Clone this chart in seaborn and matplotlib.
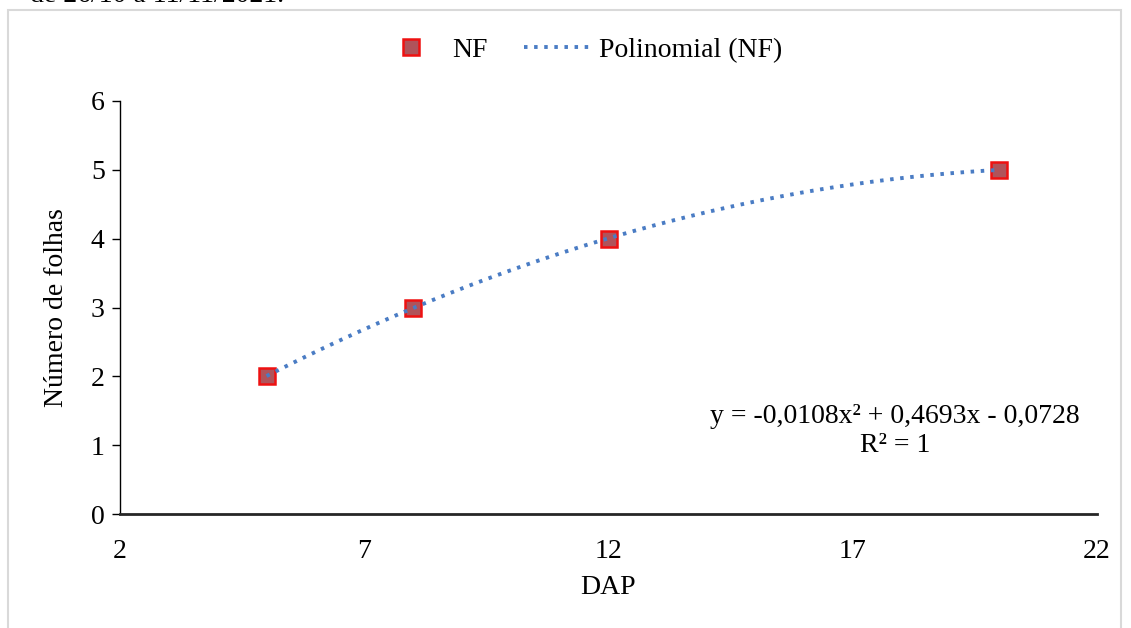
import numpy as np
import pandas as pd
import seaborn as sns
import matplotlib
matplotlib.use("Agg")
import matplotlib.pyplot as plt
from matplotlib.patches import Rectangle

# Data
dap = [5, 8, 12, 20]
nf = [2, 3, 4, 5]
x_ticks = [2, 7, 12, 17, 22]
y_ticks = [0, 1, 2, 3, 4, 5, 6]

sns.set_theme(style="white")
plt.rcParams['font.family'] = ['Liberation Serif', 'DejaVu Serif']
plt.rcParams['text.color'] = 'black'
plt.rcParams['axes.labelcolor'] = 'black'

FS = 20
FILL = '#B0535A'
EDGE = '#EE1111'

fig = plt.figure(figsize=(11.31, 6.28), dpi=100)
ax = fig.add_axes([120/1131, 1-514/628, (1097-120)/1131, (514-101)/628])

# outer frame
fig.patches.append(Rectangle((8/1131, -0.01), (1121-8)/1131, 1-10/628 + 0.01, transform=fig.transFigure,
                             fill=False, edgecolor='#D9D9D9', linewidth=1.5))
fig.text(30/1131, 1.0 + 4/628, "de 26/10 a 11/11/2021.", fontsize=FS, ha='left', va='center')

df = pd.DataFrame({"DAP": dap, "NF": nf})
coef = np.polyfit(dap, nf, 2)
xs = np.linspace(min(dap), max(dap), 200)
trend = pd.DataFrame({"DAP": xs, "NF": np.polyval(coef, xs)})

sns.lineplot(data=df, x="DAP", y="NF", marker='s', linestyle='none', markersize=12,
             color=EDGE, ax=ax, label='NF', zorder=3)
pts = ax.lines[-1]
pts.set_markerfacecolor(FILL)
pts.set_markeredgecolor(EDGE)
pts.set_markeredgewidth(1.8)
sns.lineplot(data=trend, x="DAP", y="NF", color='#4A7CC4', linewidth=2.8,
             linestyle=(0, (0.9, 1.7)), ax=ax, label='Polinomial (NF)', zorder=4)

ax.set_xlim(2, 22)
ax.set_ylim(0, 6)
ax.set_xticks(x_ticks)
ax.set_yticks(y_ticks)
ax.tick_params(axis='both', labelsize=FS, colors='black')
ax.tick_params(axis='y', left=True, length=6, width=1, direction='out', pad=5)
ax.tick_params(axis='x', bottom=False, pad=12)
for s in ['top', 'right']:
    ax.spines[s].set_visible(False)
ax.spines['left'].set_color('black')
ax.spines['left'].set_linewidth(1.0)
ax.spines['bottom'].set_color('#262626')
ax.spines['bottom'].set_linewidth(2.0)
ax.grid(False)
ax.set_xlabel("DAP", fontsize=FS, labelpad=8)
ax.set_ylabel("Número de folhas", fontsize=FS, labelpad=16)

ax.text(895/1131, 1-431/628, "y = -0,0108x² + 0,4693x - 0,0728\nR² = 1",
        transform=fig.transFigure, ha='center', va='center', fontsize=FS, linespacing=1.2)

leg = ax.legend(loc='center', ncol=2, frameon=False, fontsize=FS, handlelength=2.4,
                columnspacing=1.3, handletextpad=0.3, markerscale=1.0)
leg.set_bbox_to_anchor((580/1131, 1 - 50/628), transform=fig.transFigure)
h0 = leg.legend_handles[0]
h0.set_markerfacecolor(FILL)
h0.set_markeredgecolor(EDGE)
h0.set_markeredgewidth(1.8)

fig.savefig("out.png", dpi=100, facecolor='white')
